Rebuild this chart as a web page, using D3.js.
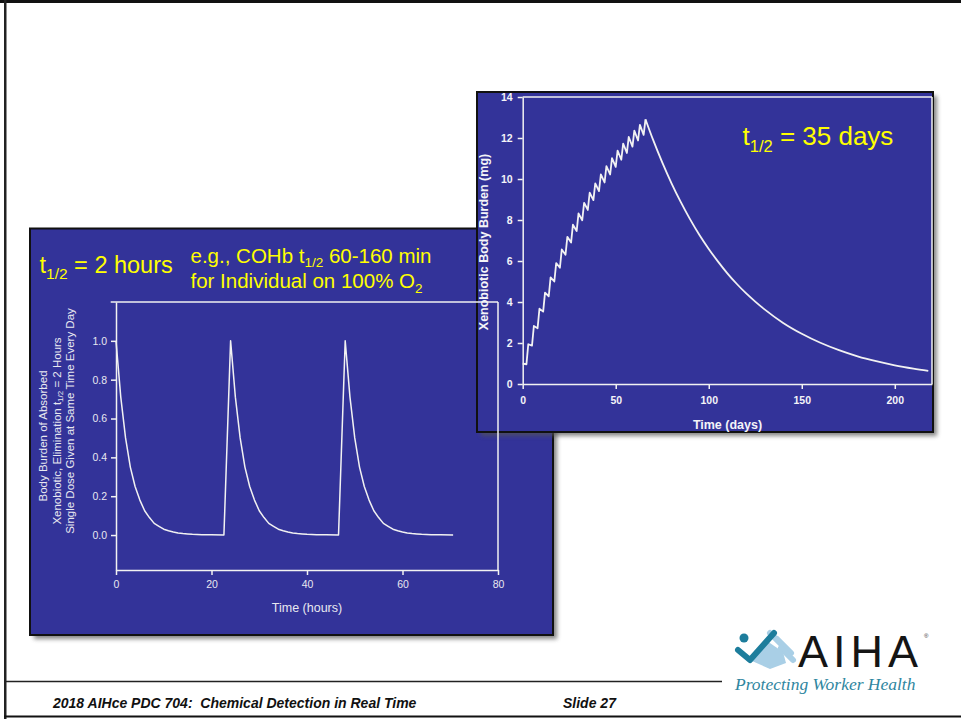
<!DOCTYPE html>
<html><head><meta charset="utf-8">
<script src="https://cdn.jsdelivr.net/npm/d3@7"></script>
<style>
html,body{margin:0;padding:0;background:#fff;}
svg{display:block;font-family:"Liberation Sans",Arial,sans-serif;}
</style></head>
<body>
<script>
// ---------------- DATA ----------------
// Left chart: t1/2 = 2 hours, single dose every 24 h
const doseHours = [0, 24, 48];
const hoursAfterDose = [0, 1, 2, 3, 4, 5, 6, 7, 8, 9, 10, 11, 12, 13, 14, 15, 16, 18, 20, 22.6];
const burdenAfterDose = [1.0, 0.71, 0.5, 0.35, 0.25, 0.18, 0.125, 0.09, 0.06, 0.045, 0.03, 0.022, 0.016, 0.011, 0.008, 0.006, 0.004, 0.002, 0.001, 0.0];
const leftXTicks = [0, 20, 40, 60, 80];
const leftYTicks = [0.0, 0.2, 0.4, 0.6, 0.8, 1.0];

// Right chart: t1/2 = 35 days, 1 mg dose every 3 days, then washout
const doseDays = [0, 3, 6, 9, 12, 15, 18, 21, 24, 27, 30, 33, 36, 39, 42, 45, 48, 51, 54, 57, 60, 63, 66];
const peakBurden = [1.0, 1.94, 2.83, 3.67, 4.46, 5.2, 5.9, 6.56, 7.18, 7.77, 8.32, 8.84, 9.33, 9.79, 10.22, 10.63, 11.02, 11.38, 11.73, 12.05, 12.36, 12.64, 12.91];
const troughBurden = [0.96, 1.87, 2.72, 3.53, 4.28, 5.0, 5.67, 6.3, 6.9, 7.46, 7.99, 8.49, 8.97, 9.41, 9.83, 10.22, 10.59, 10.94, 11.27, 11.58, 11.88, 12.15];
const washoutDays = [66, 70, 75, 80, 85, 90, 95, 100, 105, 110, 115, 120, 125, 130, 140, 150, 160, 170, 180, 190, 200, 210, 218];
const washoutBurden = [12.91, 11.93, 10.81, 9.79, 8.87, 8.03, 7.27, 6.59, 5.97, 5.4, 4.89, 4.43, 4.02, 3.64, 2.98, 2.45, 2.01, 1.65, 1.35, 1.11, 0.91, 0.75, 0.64];
const rightXTicks = [0, 50, 100, 150, 200];
const rightYTicks = [0, 2, 4, 6, 8, 10, 12, 14];

// ---------------- DRAW ----------------
const W = 961, H = 719;
const BLUE = "#333399", YEL = "#ffff00", LINE = "#f2f2f2", TXT = "#e8e8f0";
const svg = d3.select("body").append("svg").attr("width", W).attr("height", H);

const defs = svg.append("defs");
const f = defs.append("filter").attr("id", "sh").attr("x", "-5%").attr("y", "-5%").attr("width", "115%").attr("height", "115%");
f.append("feGaussianBlur").attr("stdDeviation", 2);

// slide frame
svg.append("rect").attr("width", W).attr("height", H).attr("fill", "#fff");
svg.append("rect").attr("x", 0).attr("y", 0).attr("width", W).attr("height", 3).attr("fill", "#111");
svg.append("rect").attr("x", 4).attr("y", 0).attr("width", 2.5).attr("height", H).attr("fill", "#222");
svg.append("line").attr("x1", 5).attr("x2", 722).attr("y1", 681.5).attr("y2", 681.5).attr("stroke", "#222").attr("stroke-width", 1.5);
svg.append("line").attr("x1", 4).attr("x2", W).attr("y1", 716.5).attr("y2", 716.5).attr("stroke", "#111").attr("stroke-width", 2);

// footer
svg.append("text").attr("x", 53).attr("y", 708).attr("font-size", 14).attr("font-weight", "bold").attr("font-style", "italic")
  .attr("fill", "#111").style("white-space", "pre").text("2018 AIHce PDC 704:  Chemical Detection in Real Time");
svg.append("text").attr("x", 563).attr("y", 708).attr("font-size", 14).attr("font-weight", "bold").attr("font-style", "italic")
  .attr("fill", "#111").text("Slide 27");

// logo
const logo = svg.append("g");
// hand (light blue fingers)
const hand = logo.append("g");
[[770, 633, 784, 647], [777, 639, 791, 653], [781, 648, 793, 660]].forEach(([x1, y1, x2, y2]) => {
  hand.append("line").attr("x1", x1).attr("y1", y1).attr("x2", x2).attr("y2", y2).attr("stroke", "#a9cfe6").attr("stroke-width", 6).attr("stroke-linecap", "round");
});
hand.append("path").attr("d", "M752,661 L767,641 L783,652 L786,663 L770,669 Z").attr("fill", "#a9cfe6");
// check + dot (teal)
logo.append("circle").attr("cx", 744).attr("cy", 638).attr("r", 4.5).attr("fill", "#1d7d9c");
logo.append("path").attr("d", "M738,650 L750,660 L774,633").attr("fill", "none").attr("stroke", "#1d7d9c").attr("stroke-width", 6).attr("stroke-linejoin", "round").attr("stroke-linecap", "round");
logo.append("text").attr("x", 798).attr("y", 667).attr("font-size", 45).attr("letter-spacing", 5).attr("fill", "#151515").text("AIHA");
logo.append("text").attr("x", 924).attr("y", 638).attr("font-size", 6).attr("fill", "#333").text("®");
logo.append("text").attr("x", 735).attr("y", 690).attr("font-size", 17.5).attr("font-style", "italic")
  .attr("font-family", "'Liberation Serif','Times New Roman',serif").attr("fill", "#2f86a0").text("Protecting Worker Health");

function panel(x, y, w, h) {
  svg.append("rect").attr("x", x + 4).attr("y", y + 4).attr("width", w).attr("height", h).attr("fill", "#555").attr("opacity", 0.7).attr("filter", "url(#sh)");
  svg.append("rect").attr("x", x).attr("y", y).attr("width", w).attr("height", h).attr("fill", BLUE).attr("stroke", "#111").attr("stroke-width", 2);
}

// left panel background
panel(30, 228.5, 523, 406.5);

// ---------- right panel (on top of left background) ----------
panel(477, 92, 456, 340);
const xR = d3.scaleLinear().domain([0, 220]).range([522.7, 932]);
const yR = d3.scaleLinear().domain([0, 14]).range([384, 97]);
const gR = svg.append("g");
const axR = gR.append("g").attr("transform", "translate(0,384)")
  .call(d3.axisBottom(xR).tickValues(rightXTicks).tickSize(5).tickSizeOuter(0).tickPadding(8));
const ayR = gR.append("g").attr("transform", "translate(522.7,0)")
  .call(d3.axisLeft(yR).tickValues(rightYTicks).tickSize(5).tickSizeOuter(0).tickPadding(5));
[axR, ayR].forEach(a => {
  a.selectAll("path,line").attr("stroke", LINE).attr("stroke-width", 1.5);
  a.selectAll("text").attr("fill", "#f4f4f8").attr("font-size", 10.5).attr("font-weight", "bold").attr("font-family", "'Liberation Sans',Arial,sans-serif");
});
gR.append("line").attr("x1", xR(0)).attr("x2", xR(220)).attr("y1", yR(14)).attr("y2", yR(14)).attr("stroke", LINE).attr("stroke-width", 1.5);
gR.append("line").attr("x1", xR(220)).attr("x2", xR(220)).attr("y1", yR(14)).attr("y2", yR(0)).attr("stroke", LINE).attr("stroke-width", 1.5);

const sawPts = [];
doseDays.forEach((d, i) => {
  sawPts.push([d, peakBurden[i]]);
  if (i < troughBurden.length) sawPts.push([d + 2, troughBurden[i]]);
});
const washPts = washoutDays.map((d, i) => [d, washoutBurden[i]]);
gR.append("path").datum(sawPts).attr("fill", "none").attr("stroke", LINE).attr("stroke-width", 1.8).attr("stroke-linejoin", "round")
  .attr("d", d3.line().x(p => xR(p[0])).y(p => yR(p[1])));
gR.append("path").datum(washPts).attr("fill", "none").attr("stroke", LINE).attr("stroke-width", 1.8)
  .attr("d", d3.line().curve(d3.curveMonotoneX).x(p => xR(p[0])).y(p => yR(p[1])));

gR.append("text").attr("x", 727.5).attr("y", 429).attr("text-anchor", "middle").attr("font-size", 12.5).attr("font-weight", "bold").attr("fill", "#f4f4f8").text("Time (days)");
gR.append("text").attr("transform", "translate(484,242) rotate(-90)").attr("text-anchor", "middle").attr("dominant-baseline", "central")
  .attr("font-size", 12.5).attr("font-weight", "bold").attr("fill", "#f4f4f8").text("Xenobiotic Body Burden (mg)");

const tR = gR.append("text").attr("x", 742.5).attr("y", 145).attr("font-size", 26).attr("fill", YEL);
tR.append("tspan").text("t");
tR.append("tspan").attr("dy", 6.5).attr("font-size", 16.5).text("1/2");
tR.append("tspan").attr("dy", -6.5).text(" = 35 days");

// ---------- left chart (drawn on top) ----------
const xL = d3.scaleLinear().domain([0, 80]).range([116, 498]);
const yL = d3.scaleLinear().domain([-0.18, 1.2]).range([570, 302]);
const gL = svg.append("g");
const axL = gL.append("g").attr("transform", "translate(0,570)")
  .call(d3.axisBottom(xL).tickValues(leftXTicks).tickSize(5).tickSizeOuter(0).tickPadding(6));
const ayL = gL.append("g").attr("transform", "translate(116,0)")
  .call(d3.axisLeft(yL).tickValues(leftYTicks).tickFormat(d3.format(".1f")).tickSize(5).tickSizeOuter(0).tickPadding(4));
[axL, ayL].forEach(a => {
  a.selectAll("path,line").attr("stroke", LINE).attr("stroke-width", 1.5);
  a.selectAll("text").attr("fill", TXT).attr("font-size", 10.5).attr("font-family", "'Liberation Sans',Arial,sans-serif");
});
gL.append("line").attr("x1", 110.7).attr("x2", xL(80)).attr("y1", yL(1.2)).attr("y2", yL(1.2)).attr("stroke", LINE).attr("stroke-width", 1.5);
gL.append("line").attr("x1", xL(80)).attr("x2", xL(80)).attr("y1", yL(1.2)).attr("y2", yL(-0.18)).attr("stroke", LINE).attr("stroke-width", 1.5);

const leftPts = doseHours.flatMap(d => hoursAfterDose.map((h, i) => [d + h, burdenAfterDose[i]]));
gL.append("path").datum(leftPts).attr("fill", "none").attr("stroke", LINE).attr("stroke-width", 1.5).attr("stroke-linejoin", "round")
  .attr("d", d3.line().x(p => xL(p[0])).y(p => yL(p[1])));

gL.append("text").attr("x", 307).attr("y", 612).attr("text-anchor", "middle").attr("font-size", 12.5).attr("fill", TXT).text("Time (hours)");

const yTitle = gL.append("g").attr("fill", TXT).attr("font-size", 11.5).attr("text-anchor", "middle");
yTitle.append("text").attr("transform", "translate(43,436) rotate(-90)").attr("dominant-baseline", "central").text("Body Burden of Absorbed");
const yt2 = yTitle.append("text").attr("transform", "translate(56.5,431) rotate(-90)").attr("dominant-baseline", "central");
yt2.append("tspan").text("Xenobiotic, Elimination t");
yt2.append("tspan").attr("font-size", 8).attr("dy", 3).text("1/2");
yt2.append("tspan").attr("dy", -3).text(" = 2 Hours");
yTitle.append("text").attr("transform", "translate(70,421) rotate(-90)").attr("dominant-baseline", "central").text("Single Dose Given at Same Time Every Day");

const tL = gL.append("text").attr("x", 39.5).attr("y", 273).attr("font-size", 23.5).attr("fill", YEL);
tL.append("tspan").text("t");
tL.append("tspan").attr("dy", 6).attr("font-size", 15.5).text("1/2");
tL.append("tspan").attr("dy", -6).text(" = 2 hours");

const e1 = gL.append("text").attr("x", 190.5).attr("y", 263).attr("font-size", 20.5).attr("fill", YEL);
e1.append("tspan").text("e.g., COHb t");
e1.append("tspan").attr("dy", 4).attr("font-size", 13.5).text("1/2");
e1.append("tspan").attr("dy", -4).text(" 60-160 min");
const e2 = gL.append("text").attr("x", 190.5).attr("y", 288).attr("font-size", 20.5).attr("fill", YEL);
e2.append("tspan").text("for Individual on 100% O");
e2.append("tspan").attr("dy", 5).attr("font-size", 13.5).text("2");
</script>
</body></html>
